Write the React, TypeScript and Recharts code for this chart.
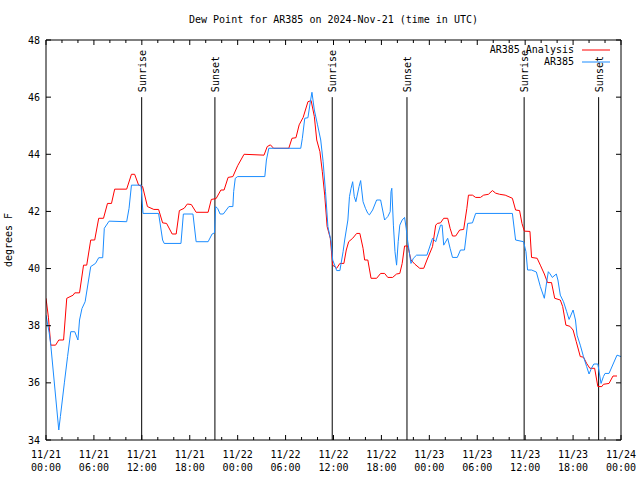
import { LineChart, Line, XAxis, YAxis, ReferenceLine, Legend } from "recharts";

const FONT = '"DejaVu Sans Mono", "Liberation Mono", monospace';

// hours since 2024-11-21 00:00 UTC, dew point in deg F
const analysisHours = [
  0, 0.3, 0.6, 1.2, 1.6, 2.2, 2.6, 3.4, 3.6, 4.2, 4.7, 5.1, 5.6, 6.1, 6.6, 7.2, 7.7, 8.2, 8.6, 10.1,
  10.7, 11.1, 11.6, 12.1, 12.7, 13.5, 14.1, 14.6, 15.1, 15.8, 16.3, 16.7, 17.3, 17.7, 18.2, 18.8, 20.3,
  20.7, 21.3, 21.9, 22.3, 22.8, 23.4, 24.0, 24.8, 27.3, 27.7, 28.1, 28.5, 30.4, 30.8, 31.3, 31.7, 32.2,
  32.8, 33.2, 33.6, 33.9, 34.3, 34.6, 34.9, 35.2, 35.6, 35.9, 36.4, 36.8, 37.3, 37.6, 37.9, 38.4, 38.9,
  39.3, 39.7, 39.9, 40.3, 40.7, 41.4, 41.9, 42.4, 42.8, 43.4, 43.9, 44.3, 44.6, 44.9, 45.3, 45.7, 46.2,
  46.8, 47.3, 47.7, 48.4, 48.8, 49.0, 49.4, 49.8, 50.3, 50.6, 50.9, 51.3, 51.8, 52.3, 52.7, 52.9, 53.4,
  53.8, 54.4, 54.8, 55.4, 55.9, 56.3, 56.8, 57.5, 58.4, 58.8, 59.3, 59.6, 59.9, 60.6, 60.8, 61.5, 61.9,
  62.4, 62.8, 63.3, 63.7, 64.4, 64.7, 65.1, 65.6, 66.0, 66.4, 66.9, 67.3, 67.7, 68.1, 68.7, 69.1, 69.6,
  69.8, 70.5, 71.0, 71.5,
];
const analysisValues = [
  38.96, 38.3, 37.32, 37.32, 37.5, 37.5, 38.96, 39.07, 39.15, 39.15, 40.12, 40.12, 41.0, 41.0, 41.76,
  41.76, 42.28, 42.28, 42.78, 42.78, 43.3, 43.3, 42.92, 42.87, 42.17, 42.07, 42.07, 41.6, 41.58, 41.21,
  41.21, 42.03, 42.11, 42.26, 42.24, 41.97, 41.97, 42.42, 42.45, 42.75, 42.75, 43.19, 43.22, 43.6, 44.0,
  43.97, 44.27, 44.33, 44.21, 44.21, 44.56, 44.58, 45.03, 45.29, 45.84, 45.88, 45.32, 44.5, 44.09, 43.39,
  42.57, 41.47, 41.06, 40.12, 40.01, 40.18, 40.18, 40.65, 40.94, 41.06, 41.23, 41.23, 40.71, 40.3, 40.3,
  39.66, 39.66, 39.83, 39.83, 39.69, 39.69, 39.81, 39.83, 40.18, 40.79, 40.79, 40.3, 40.15, 40.01, 40.01,
  40.3, 40.77, 41.52, 41.58, 41.6, 41.76, 41.76, 41.41, 41.14, 41.14, 41.35, 41.37, 42.11, 42.57, 42.57,
  42.49, 42.49, 42.57, 42.6, 42.73, 42.64, 42.6, 42.57, 42.46, 42.05, 42.03, 41.58, 41.31, 41.3, 40.39,
  40.36, 40.12, 39.81, 39.51, 39.51, 38.96, 38.9, 38.67, 38.02, 37.98, 37.85, 37.44, 36.92, 36.9, 36.68,
  36.51, 36.51, 35.87, 35.87, 35.95, 35.98, 36.24, 36.24,
];

const stationHours = [
  0, 0.4, 0.6, 1.6, 1.8, 2.3, 2.7, 3.1, 3.6, 4.0, 4.2, 4.5, 4.9, 5.6, 6.2, 6.6, 7.1, 7.3, 7.9, 10.1, 10.4,
  10.7, 11.9, 12.0, 12.15, 14.1, 14.6, 14.8, 16.9, 17.2, 18.4, 18.8, 20.3, 20.8, 21.1, 21.25, 21.5, 21.8,
  22.2, 22.9, 23.4, 23.5, 23.7, 24.0, 27.4, 27.6, 27.9, 31.9, 32.1, 32.4, 32.8, 33.1, 33.3, 33.6, 34.0,
  34.4, 34.7, 35.0, 35.3, 35.7, 35.9, 36.4, 36.8, 37.2, 37.4, 37.8, 38.0, 38.2, 38.4, 38.6, 38.8, 39.2,
  39.4, 39.7, 40.0, 40.3, 40.5, 40.9, 41.4, 41.9, 42.4, 42.6, 42.8, 43.1, 43.2, 43.3, 43.5, 43.7, 43.9,
  44.1, 44.3, 44.6, 44.9, 45.1, 45.3, 45.7, 46.0, 46.4, 47.7, 48.4, 48.8, 49.4, 49.6, 49.8, 50.3, 50.6,
  50.9, 51.5, 51.9, 52.4, 52.8, 53.4, 53.8, 58.4, 58.8, 59.8, 60.1, 60.3, 60.8, 61.4, 61.9, 62.4, 62.7,
  62.9, 63.1, 63.4, 63.9, 64.1, 64.4, 64.8, 65.2, 65.5, 66.0, 66.3, 66.5, 66.9, 67.3, 67.7, 68.0, 68.3,
  68.6, 69.1, 69.5, 69.8, 70.0, 70.5, 71.5, 72.0,
];
const stationValues = [
  38.37, 37.75, 37.32, 34.35, 34.82, 36.0, 36.92, 37.79, 37.79, 37.5, 38.2, 38.6, 38.84, 40.07, 40.18,
  40.38, 40.38, 41.41, 41.66, 41.64, 42.11, 42.92, 42.92, 42.5, 41.93, 41.93, 41.0, 40.88, 40.88, 41.91,
  41.91, 40.94, 40.94, 41.21, 41.25, 42.17, 42.1, 41.91, 41.91, 42.17, 42.17, 42.7, 43.16, 43.22, 43.22,
  43.8, 44.21, 44.21, 44.56, 45.26, 45.28, 45.84, 46.17, 45.55, 45.03, 44.5, 43.74, 42.69, 41.47, 40.94,
  40.3, 39.93, 39.93, 40.59, 41.0, 41.7, 42.52, 42.81, 43.04, 42.52, 42.34, 42.87, 43.08, 42.34, 42.11,
  41.93, 41.88, 42.05, 42.4, 42.4, 41.7, 41.76, 41.82, 41.99, 42.69, 42.81, 41.52, 40.59, 40.12, 40.94,
  41.52, 41.7, 41.79, 41.41, 40.94, 40.18, 40.36, 40.47, 40.47, 41.06, 40.94, 41.52, 41.52, 40.82, 41.06,
  40.71, 40.39, 40.39, 40.65, 40.65, 41.58, 41.6, 41.93, 41.93, 41.0, 40.94, 40.59, 39.95, 39.95, 39.88,
  39.37, 38.96, 39.54, 39.89, 39.82, 39.69, 39.81, 39.6, 39.07, 38.84, 38.49, 38.22, 38.55, 38.2, 37.67,
  37.32, 36.92, 36.57, 36.31, 36.51, 36.66, 36.66, 35.98, 36.22, 36.33, 36.33, 36.97, 36.92,
];

const sunEventHours = [11.98, 21.15, 35.84, 45.2, 59.87, 69.2];
const sunEventNames = ["Sunrise", "Sunset", "Sunrise", "Sunset", "Sunrise", "Sunset"];

const xTicks = [0, 2, 4, 6, 8, 10, 12, 14, 16, 18, 20, 22, 24, 26, 28, 30, 32, 34, 36, 38, 40, 42, 44, 46, 48, 50, 52, 54, 56, 58, 60, 62, 64, 66, 68, 70, 72];
const dayLabels = ["11/21", "11/22", "11/23", "11/24"];
const timeLabels = ["00:00", "06:00", "12:00", "18:00"];
const yTicks = [34, 36, 38, 40, 42, 44, 46, 48];

const seriesNames = ["AR385 Analysis", "AR385"];
const seriesColors = ["#ff0000", "#1a8cff"];

const analysisData = analysisHours.map((h, i) => ({ h, v: analysisValues[i] }));
const stationData = stationHours.map((h, i) => ({ h, v: stationValues[i] }));

const txt = { fontFamily: FONT, fontSize: 10, fill: "#000" };

function BottomTick(props: any) {
  const { x, y, payload } = props;
  const h = payload.value as number;
  const major = h % 6 === 0;
  return (
    <g>
      <line x1={x} x2={x} y1={y} y2={y - (major ? 5 : 3)} stroke="#000" />
      {major && (
        <>
          <text x={x} y={y + 18} textAnchor="middle" style={txt}>
            {dayLabels[Math.floor(h / 24)]}
          </text>
          <text x={x} y={y + 31} textAnchor="middle" style={txt}>
            {timeLabels[(h % 24) / 6]}
          </text>
        </>
      )}
    </g>
  );
}

function TopTick(props: any) {
  const { x, y, payload } = props;
  const major = payload.value % 6 === 0;
  return <line x1={x} x2={x} y1={y} y2={y + (major ? 5 : 3)} stroke="#000" />;
}

function LeftTick(props: any) {
  const { x, y, payload } = props;
  return (
    <g>
      <line x1={x} x2={x + 5} y1={y} y2={y} stroke="#000" />
      <text x={x - 6} y={y} dy="0.35em" textAnchor="end" style={txt}>
        {payload.value}
      </text>
    </g>
  );
}

function RightTick(props: any) {
  const { x, y } = props;
  return <line x1={x} x2={x - 5} y1={y} y2={y} stroke="#000" />;
}

function sunLabel(name: string) {
  return (props: any) => {
    const vb = props.viewBox || {};
    const x = vb.x ?? 0;
    const y = (vb.y ?? 97) - 5;
    return (
      <text x={x} y={y} dy="0.4em" transform={`rotate(-90 ${x} ${y})`} style={txt}>
        {name}
      </text>
    );
  };
}

function yLabel(props: any) {
  const vb = props.viewBox || { x: 46, y: 40, height: 400 };
  const x = 12;
  const y = vb.y + vb.height / 2;
  return (
    <text x={x} y={y} textAnchor="middle" transform={`rotate(-90 ${x} ${y})`} style={txt}>
      degrees F
    </text>
  );
}

function LegendBox() {
  return (
    <div style={{ fontFamily: FONT, fontSize: 10, lineHeight: "12px" }}>
      {seriesNames.map((name, i) => (
        <div key={name} style={{ display: "flex", justifyContent: "flex-end", alignItems: "center", height: 12 }}>
          <span>{name}</span>
          <svg width={36} height={12}>
            <line x1={8} x2={36} y1={6} y2={6} stroke={seriesColors[i]} />
          </svg>
        </div>
      ))}
    </div>
  );
}

export default function App() {
  return (
    <div style={{ position: "absolute", left: 0, top: 0, width: 640, height: 480, background: "#fff" }}>
      <div
        style={{
          position: "absolute",
          left: 46,
          top: 14,
          width: 575,
          textAlign: "center",
          fontFamily: FONT,
          fontSize: 10,
          lineHeight: "12px",
        }}
      >
        Dew Point for AR385 on 2024-Nov-21 (time in UTC)
      </div>
      <LineChart width={640} height={480} margin={{ top: 39, right: 18, bottom: 39, left: 45 }}>
        <XAxis
          type="number"
          dataKey="h"
          domain={[0, 72]}
          ticks={xTicks}
          interval={0}
          height={1}
          tickSize={0}
          tickMargin={0}
          tickLine={false}
          tick={BottomTick}
          axisLine={{ stroke: "#000" }}
          allowDataOverflow
        />
        <XAxis
          xAxisId="top"
          orientation="top"
          type="number"
          dataKey="h"
          domain={[0, 72]}
          ticks={xTicks}
          interval={0}
          height={1}
          tickSize={0}
          tickMargin={0}
          tickLine={false}
          tick={TopTick}
          axisLine={{ stroke: "#000" }}
          allowDataOverflow
        />
        <YAxis
          type="number"
          domain={[34, 48]}
          ticks={yTicks}
          interval={0}
          width={1}
          tickSize={0}
          tickMargin={0}
          tickLine={false}
          tick={LeftTick}
          axisLine={{ stroke: "#000" }}
          label={yLabel}
          allowDataOverflow
        />
        <YAxis
          yAxisId="right"
          orientation="right"
          type="number"
          domain={[34, 48]}
          ticks={yTicks}
          interval={0}
          width={1}
          tickSize={0}
          tickMargin={0}
          tickLine={false}
          tick={RightTick}
          axisLine={{ stroke: "#000" }}
          allowDataOverflow
        />
        {sunEventHours.map((h, i) => (
          <ReferenceLine
            key={i}
            segment={[
              { x: h, y: 46 },
              { x: h, y: 34 },
            ]}
            stroke="#000"
            label={sunLabel(sunEventNames[i])}
          />
        ))}
        <Line
          data={analysisData}
          dataKey="v"
          name={seriesNames[0]}
          type="linear"
          stroke={seriesColors[0]}
          strokeWidth={1}
          dot={false}
          isAnimationActive={false}
        />
        <Line
          data={stationData}
          dataKey="v"
          name={seriesNames[1]}
          type="linear"
          stroke={seriesColors[1]}
          strokeWidth={1}
          dot={false}
          isAnimationActive={false}
        />
        <Legend
          layout="vertical"
          align="center"
          verticalAlign="middle"
          content={LegendBox}
          wrapperStyle={{ left: 400, top: 44, width: 210, height: 24 }}
        />
      </LineChart>
    </div>
  );
}
